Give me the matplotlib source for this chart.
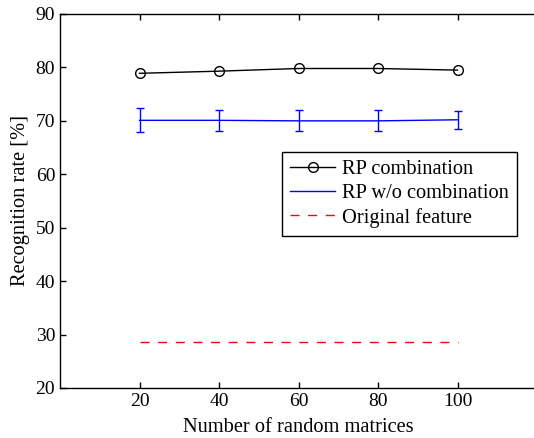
import matplotlib
matplotlib.use("Agg")
import matplotlib.pyplot as plt
from matplotlib.lines import Line2D

x = [20, 40, 60, 80, 100]
rp_comb = [78.9, 79.3, 79.8, 79.8, 79.5]
rp_wo = [70.1, 70.1, 70.0, 70.0, 70.2]
rp_wo_err = [2.25, 1.95, 1.95, 1.95, 1.7]
orig = [28.7, 28.7, 28.7, 28.7, 28.7]
labels = ['RP combination', 'RP w/o combination', 'Original feature']

plt.rcParams['font.family'] = ['Liberation Serif', 'DejaVu Serif']
plt.rcParams['font.size'] = 14

fig = plt.figure(figsize=(5.34, 4.38), dpi=100)
ax = fig.add_axes([60/534, 1-388/438, 477/534, 374/438])

dash = (0, (6.5, 6.2))
ax.plot(x, rp_comb, color='black', marker='o', markerfacecolor='none',
        markersize=7, linewidth=1)
ax.errorbar(x, rp_wo, yerr=rp_wo_err, color='blue', linewidth=1,
            capsize=3, elinewidth=1)
ax.plot(x, orig, color='red', linestyle=dash, linewidth=1)

ax.set_xlim(0, 120)
ax.set_ylim(20, 90)
ax.set_xticks(x)
ax.set_yticks([20, 30, 40, 50, 60, 70, 80, 90])
ax.tick_params(direction='in', length=4, width=1, top=True, right=False, labelsize=14)
ax.spines['right'].set_visible(False)
for s in ax.spines.values():
    s.set_linewidth(1)
ax.set_xlabel('Number of random matrices', fontsize=14.7, labelpad=6)
ax.set_ylabel('Recognition rate [%]', fontsize=14.7, labelpad=4)

handles = [
    Line2D([], [], color='black', marker='o', markerfacecolor='none', markersize=7, linewidth=1),
    Line2D([], [], color='blue', linewidth=1),
    Line2D([], [], color='red', linestyle=dash, linewidth=1),
]
leg = ax.legend(handles, labels, loc='upper left', bbox_to_anchor=(282/534, 1-152/438),
                bbox_transform=fig.transFigure, fancybox=False, edgecolor='black',
                framealpha=1, borderpad=0.4, labelspacing=0.22, handlelength=2.2,
                handletextpad=0.35, borderaxespad=0, fontsize=14.7)
leg.get_frame().set_linewidth(1)

fig.savefig('out.png', dpi=100)
